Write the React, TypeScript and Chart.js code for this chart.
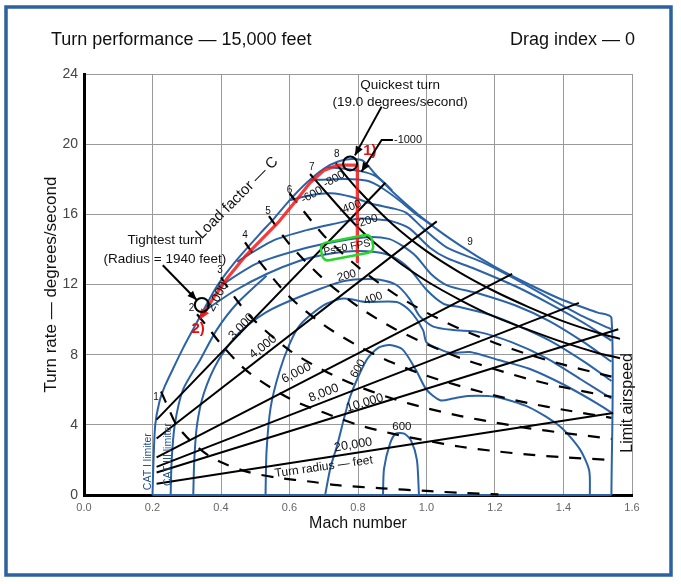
import React, { useEffect, useRef } from 'react';
import { Chart, registerables } from 'chart.js';
Chart.register(...registerables);

const FONT = '"Liberation Sans", Arial, Helvetica, sans-serif';
const BLUE = '#2b63a6';

// Axis ticks
const xTickValues = [0, 0.2, 0.4, 0.6, 0.8, 1.0, 1.2, 1.4, 1.6];
const yTickValues = [0, 4, 8, 12, 16, 20, 24];

// Envelope (CAT I limiter / lift limit, 9 g structural limit, limit airspeed)
const envelope = [[0.2,0],[0.203,2],[0.208,4],[0.22,5.3],[0.236,6.2],[0.26,7.2],[0.29,8.4],[0.32,9.5],[0.345,10.4],[0.388,11.9],[0.446,13.4],[0.514,14.9],[0.552,15.7],[0.6,16.8],[0.65,17.8],[0.7,18.6],[0.74,19.0],[0.78,19.15],[0.815,19.05],[0.85,18.3],[0.9,17.3],[1.0,15.6],[1.1,14.2],[1.2,13.0],[1.3,12.0],[1.4,11.1],[1.5,10.4],[1.54,10.1],[1.54,0]];
const envelopeBase = [[0.2,0],[1.54,0]];

// Ps contours (ft/s)
const psM1000 = [[0.71,18.7],[0.76,18.6],[0.81,18.45],[0.85,18.2],[0.88,17.75],[0.9,17.35]];
const psM800 = [[0.66,17.95],[0.73,18.0],[0.78,18.0],[0.83,17.9],[0.87,17.5],[0.92,16.8],[0.97,16.0],[1.02,15.35]];
const psM600 = [[0.6,16.8],[0.665,17.1],[0.72,17.2],[0.78,17.0],[0.84,16.6],[0.9,16.35],[0.94,16.1],[0.99,15.2],[1.06,14.1],[1.16,13.3],[1.26,12.3],[1.36,11.2],[1.46,10.15],[1.54,9.45]];
const psM400 = [[0.447,13.3],[0.552,14.5],[0.65,15.1],[0.74,15.5],[0.8,15.75],[0.86,15.7],[0.9,15.6],[0.95,15.2],[1.01,14.1],[1.06,13.5],[1.14,12.9],[1.26,11.9],[1.36,10.9],[1.46,9.8],[1.54,8.8]];
const psM200 = [[0.388,11.8],[0.505,13.2],[0.65,14.1],[0.75,14.5],[0.83,14.7],[0.89,14.6],[0.93,14.2],[0.97,13.6],[1.013,12.6],[1.062,11.94],[1.15,11.5],[1.26,10.8],[1.36,9.9],[1.46,8.7],[1.54,7.6]];
const ps0 = [[0.345,10.4],[0.436,11.6],[0.533,12.6],[0.63,13.35],[0.7,13.7],[0.78,13.9],[0.85,13.85],[0.9,13.6],[0.95,12.9],[1.0,11.7],[1.05,10.9],[1.1,10.7],[1.18,10.3],[1.26,9.7],[1.36,8.8],[1.46,7.6],[1.54,6.5]];
const catIII = [[0.253,0],[0.256,2.0],[0.265,4.0],[0.289,6.0],[0.339,7.7],[0.387,9.4],[0.446,10.9],[0.533,12.5]];
const ps200 = [[0.319,0],[0.322,2],[0.33,4],[0.35,5.8],[0.39,7.6],[0.45,9.2],[0.53,10.4],[0.63,11.3],[0.76,12.2],[0.85,12.3],[0.91,12.0],[0.95,11.2],[0.98,10.2],[1.02,9.6],[1.08,9.4],[1.15,9.3],[1.25,8.7],[1.35,7.8],[1.45,6.6],[1.54,5.5]];
const ps400 = [[0.53,0],[0.533,2.5],[0.545,5],[0.57,7],[0.6,8.6],[0.631,9.7],[0.698,10.8],[0.757,11.2],[0.825,11.0],[0.913,11.0],[0.952,10.5],[0.99,9.4],[1.0,8.7],[1.04,8.3],[1.07,8.1],[1.127,8.15],[1.21,7.7],[1.3,7.2],[1.4,6.3],[1.5,5.2],[1.54,4.7]];
const ps600 = [[0.704,0],[0.72,1.6],[0.738,2.75],[0.777,5.6],[0.825,7.7],[0.86,8.4],[0.893,8.55],[0.93,8.3],[0.97,7.1],[1.0,6.0],[1.04,5.4],[1.077,5.5],[1.12,5.65],[1.2,5.6],[1.3,5.0],[1.39,3.9],[1.448,2.6],[1.475,1.4],[1.477,0]];
const ps600b = [[0.873,0],[0.876,1.5],[0.893,2.9],[0.91,3.5],[0.935,3.5],[0.955,3.1],[0.972,2.0],[0.978,0]];

// Load factor lines
const n1 = [[0.225,5.9],[0.25,4.8],[0.27,4.0],[0.31,3.1],[0.36,2.3],[0.406,1.82],[0.475,1.33],[0.56,1.0],[0.67,0.74],[0.74,0.56],[0.87,0.38],[1.0,0.23],[1.1,0.12],[1.21,0.03]];
const n2 = [[0.33,10.3],[0.36,9.6],[0.4,8.6],[0.48,7.0],[0.6,5.5],[0.7,4.7],[0.8,4.0],[0.9,3.5],[1.0,3.1],[1.1,2.75],[1.2,2.5],[1.3,2.3],[1.4,2.15],[1.54,2.0]];
const n3 = [[0.40,12.4],[0.45,11.0],[0.5,9.9],[0.6,8.25],[0.7,7.1],[0.8,6.2],[0.9,5.5],[1.0,4.95],[1.1,4.5],[1.2,4.13],[1.3,3.8],[1.4,3.54],[1.54,3.2]];
const n4 = [[0.47,14.4],[0.5,13.6],[0.6,11.3],[0.7,9.7],[0.8,8.5],[0.9,7.55],[1.0,6.8],[1.1,6.2],[1.2,5.67],[1.3,5.23],[1.4,4.86],[1.54,4.4]];
const n5 = [[0.54,15.9],[0.6,14.3],[0.7,12.3],[0.8,10.75],[0.9,9.55],[1.0,8.6],[1.1,7.8],[1.2,7.17],[1.3,6.6],[1.4,6.14],[1.54,5.6]];
const n6 = [[0.6,17.2],[0.7,14.8],[0.8,13.0],[0.9,11.55],[1.0,10.4],[1.1,9.45],[1.2,8.67],[1.3,8.0],[1.4,7.43],[1.54,6.75]];
const n7 = [[0.66,18.3],[0.7,17.4],[0.8,15.25],[0.9,13.55],[1.0,12.2],[1.1,11.1],[1.2,10.15],[1.3,9.4],[1.4,8.7],[1.5,8.1],[1.565,7.8]];
const n8 = [[0.735,18.9],[0.8,17.4],[0.9,15.45],[1.0,13.9],[1.1,12.65],[1.2,11.6],[1.3,10.7],[1.4,9.9],[1.5,9.25],[1.565,8.9]];

// Turn radius lines (feet)
const r3000 = [[0.212,4.3],[0.88,17.8]];
const r4000 = [[0.212,3.22],[1.03,15.6]];
const r6000 = [[0.212,2.14],[1.25,12.6]];
const r8000 = [[0.212,1.6],[1.445,10.95]];
const r10000 = [[0.212,1.28],[1.56,9.45]];
const r20000 = [[0.212,0.64],[1.545,4.68]];

// Highlight path (red)
const redPath = [[0.345,10.2],[0.38,11.3],[0.42,12.4],[0.47,13.6],[0.52,14.6],[0.57,15.6],[0.62,16.8],[0.66,17.8],[0.7,18.5],[0.74,18.8],[0.798,18.8],[0.798,13.3]];

// Labels
const loadLabels: [string, number, number][] = [['1',0.21,5.6],['2',0.314,10.66],['3',0.397,12.83],['4',0.47,14.8],['5',0.537,16.2],['6',0.6,17.4],['7',0.665,18.7],['8',0.738,19.4],['9',1.127,14.4]];
const radiusLabels: [string, number, number, number][] = [['2,000',0.39,11.3,-62],['3,000',0.46,9.6,-46],['4,000',0.523,8.45,-38],['6,000',0.62,6.95,-27],['8,000',0.70,5.8,-21],['10,000',0.82,5.25,-17],['20,000',0.786,2.85,-9]];
const psLabels: [string, number, number, number][] = [['-600',0.665,17.1,-30],['-800',0.73,18.0,-30],['-400',0.777,16.4,-20],['-200',0.825,15.6,-18],['200',0.767,12.5,-15],['400',0.844,11.2,-20],['600',0.80,7.2,-60],['600',0.928,3.9,0]];

type P = number[][];
function ds(data: P, color: string, width: number, order: number, dash: number[] = [], tension = 0) {
  return {
    data: data.map(([x, y]) => ({ x, y })),
    borderColor: color,
    borderWidth: width,
    borderDash: dash,
    pointRadius: 0,
    tension,
    fill: false,
    clip: false as any,
    order,
    borderCapStyle: 'butt' as const,
    borderJoinStyle: 'round' as const,
  };
}

const decor = {
  id: 'decor',
  beforeDraw(chart: any) {
    const ctx = chart.ctx;
    ctx.save();
    ctx.fillStyle = '#fff';
    ctx.fillRect(0, 0, chart.width, chart.height);
    ctx.strokeStyle = '#2d62a0';
    ctx.lineWidth = 3.5;
    ctx.strokeRect(6, 7, 665, 568);
    ctx.fillStyle = '#111';
    ctx.font = `18px ${FONT}`;
    ctx.textBaseline = 'alphabetic';
    ctx.textAlign = 'left';
    ctx.fillText('Turn performance \u2014 15,000 feet', 51, 45);
    ctx.textAlign = 'right';
    ctx.fillText('Drag index \u2014 0', 635, 45);
    ctx.restore();
  },
  afterDatasetsDraw(chart: any) {
    const ctx = chart.ctx;
    const xs = chart.scales.x, ys = chart.scales.y;
    const X = (v: number) => xs.getPixelForValue(v);
    const Y = (v: number) => ys.getPixelForValue(v);
    const txt = (s: string, x: number, y: number, size: number, opts: any = {}) => {
      ctx.save();
      ctx.translate(X(x), Y(y));
      if (opts.rot) ctx.rotate((opts.rot * Math.PI) / 180);
      ctx.font = `${opts.bold ? 'bold ' : ''}${size}px ${FONT}`;
      ctx.fillStyle = opts.color || '#111';
      ctx.textAlign = opts.align || 'center';
      ctx.textBaseline = 'middle';
      ctx.fillText(s, 0, 0);
      ctx.restore();
    };
    const arrowHead = (x1: number, y1: number, x2: number, y2: number, color: string, size = 8) => {
      const a = Math.atan2(y2 - y1, x2 - x1);
      ctx.save();
      ctx.fillStyle = color;
      ctx.beginPath();
      ctx.moveTo(x2, y2);
      ctx.lineTo(x2 - size * Math.cos(a - 0.4), y2 - size * Math.sin(a - 0.4));
      ctx.lineTo(x2 - size * Math.cos(a + 0.4), y2 - size * Math.sin(a + 0.4));
      ctx.closePath();
      ctx.fill();
      ctx.restore();
    };
    const poly = (pts: number[][], color: string, w: number, head = true) => {
      ctx.save();
      ctx.strokeStyle = color;
      ctx.lineWidth = w;
      ctx.beginPath();
      pts.forEach(([x, y], i) => (i ? ctx.lineTo(X(x), Y(y)) : ctx.moveTo(X(x), Y(y))));
      ctx.stroke();
      ctx.restore();
      if (head) {
        const n = pts.length;
        arrowHead(X(pts[n - 2][0]), Y(pts[n - 2][1]), X(pts[n - 1][0]), Y(pts[n - 1][1]), color, 10);
      }
    };
    const circle = (x: number, y: number, r: number) => {
      ctx.save();
      ctx.strokeStyle = '#000';
      ctx.lineWidth = 2;
      ctx.beginPath();
      ctx.arc(X(x), Y(y), r, 0, Math.PI * 2);
      ctx.stroke();
      ctx.restore();
    };

    arrowHead(X(redPath[1][0]), Y(redPath[1][1]), X(redPath[0][0]) - 3, Y(redPath[0][1]) + 4, 'rgba(240,20,20,0.9)', 12);

    circle(0.777, 18.9, 7);
    circle(0.344, 10.83, 7);
    txt('1)', 0.815, 19.6, 15, { color: '#e01010', bold: true, align: 'left' });
    txt('2)', 0.333, 9.45, 15, { color: '#e01010', bold: true });

    txt('Quickest turn', 0.923, 23.37, 13.5);
    txt('(19.0 degrees/second)', 0.923, 22.4, 13.5);
    poly([[0.869, 22.14], [0.791, 19.36]], '#000', 2);
    poly([[0.902, 20.24], [0.869, 20.24], [0.81, 18.43]], '#000', 2);
    txt('-1000', 0.905, 20.24, 11, { align: 'left' });
    txt('Tightest turn', 0.236, 14.54, 13.5);
    txt('(Radius = 1940 feet)', 0.236, 13.45, 13.5);
    poly([[0.23, 13.1], [0.329, 11.12]], '#000', 2);

    txt('Load factor \u2014 C', 0.447, 16.93, 15, { rot: -45 });
    loadLabels.forEach(([s, x, y]) => txt(s, x, y, 10));
    radiusLabels.forEach(([s, x, y, r]) => txt(s, x, y, 12.5, { rot: r }));
    psLabels.forEach(([s, x, y, r]) => txt(s, x, y, 11.5, { rot: r }));
    txt('Turn radius \u2014 feet', 0.70, 1.6, 12, { rot: -8 });
    txt('Limit airspeed', 1.588, 5.25, 16, { rot: -90 });
    txt('CAT I limiter', 0.187, 1.9, 10.5, { rot: -90, color: '#1e4f8a' });
    txt('CAT III limiter', 0.245, 2.3, 10.5, { rot: -90, color: '#1e4f8a' });

    ctx.save();
    ctx.translate(X(0.768), Y(14.1));
    ctx.rotate((-11 * Math.PI) / 180);
    ctx.strokeStyle = '#2bd42b';
    ctx.lineWidth = 2.5;
    ctx.beginPath();
    (ctx as any).roundRect(-26, -9, 52, 18, 6);
    ctx.stroke();
    ctx.fillStyle = '#111';
    ctx.font = `10.5px ${FONT}`;
    ctx.textAlign = 'center';
    ctx.textBaseline = 'middle';
    ctx.fillText('Ps=0 FPS', 0, 0);
    ctx.restore();
  },
};

export default function App() {
  const ref = useRef<HTMLCanvasElement>(null);
  useEffect(() => {
    const canvas = ref.current!;
    const blueCurves = [envelope, envelopeBase, psM1000, psM800, psM600, psM400, psM200, ps0, catIII, ps200, ps400, ps600, ps600b];
    const datasets: any[] = [];
    datasets.push(ds(redPath, 'rgba(245,25,25,0.85)', 3.2, 0));
    [r3000, r4000, r6000, r8000, r10000, r20000, n7, n8].forEach((d) => datasets.push(ds(d, '#000', 2, 1, [], d.length > 2 ? 0.3 : 0)));
    [n1, n2, n3, n4, n5, n6].forEach((d) => datasets.push(ds(d, '#000', 2.2, 2, [12, 11], 0.3)));
    blueCurves.forEach((d) => datasets.push(ds(d, BLUE, 2, 3, [], 0.25)));

    const chart = new Chart(canvas, {
      type: 'line',
      data: { datasets },
      plugins: [decor],
      options: {
        responsive: false,
        animation: false,
        events: [],
        layout: { padding: { top: 74, right: 49, left: 0, bottom: 0 } },
        plugins: { legend: { display: false }, tooltip: { enabled: false } },
        scales: {
          x: {
            type: 'linear',
            min: 0,
            max: 1.6,
            afterBuildTicks: (s: any) => { s.ticks = xTickValues.map((v) => ({ value: v })); },
            afterFit: (s: any) => { s.height = 89; },
            ticks: { color: '#666', font: { size: 11, family: FONT }, padding: 6, maxRotation: 0, autoSkip: false, callback: (v: any) => Number(v).toFixed(1) },
            grid: { color: '#9a9a9a', lineWidth: 1, drawTicks: false },
            border: { color: '#000', width: 3 },
            title: { display: true, text: 'Mach number', color: '#111', font: { size: 16, family: FONT }, padding: { top: 0, bottom: 51 } },
          },
          y: {
            type: 'linear',
            min: 0,
            max: 24,
            afterBuildTicks: (s: any) => { s.ticks = yTickValues.map((v) => ({ value: v })); },
            afterFit: (s: any) => { s.width = 84; },
            ticks: { color: '#444', font: { size: 14, family: FONT }, padding: 6 },
            grid: { color: '#9a9a9a', lineWidth: 1, drawTicks: false },
            border: { color: '#000', width: 3 },
            title: { display: true, text: 'Turn rate \u2014 degrees/second', color: '#111', font: { size: 17, family: FONT }, padding: { top: 41, bottom: 0 } },
          },
        },
      } as any,
    });
    return () => chart.destroy();
  }, []);
  return (
    <div style={{ position: 'absolute', left: 0, top: 0, width: 681, height: 584, background: '#fff' }}>
      <canvas ref={ref} width={681} height={584} style={{ display: 'block', width: 681, height: 584 }} />
    </div>
  );
}
